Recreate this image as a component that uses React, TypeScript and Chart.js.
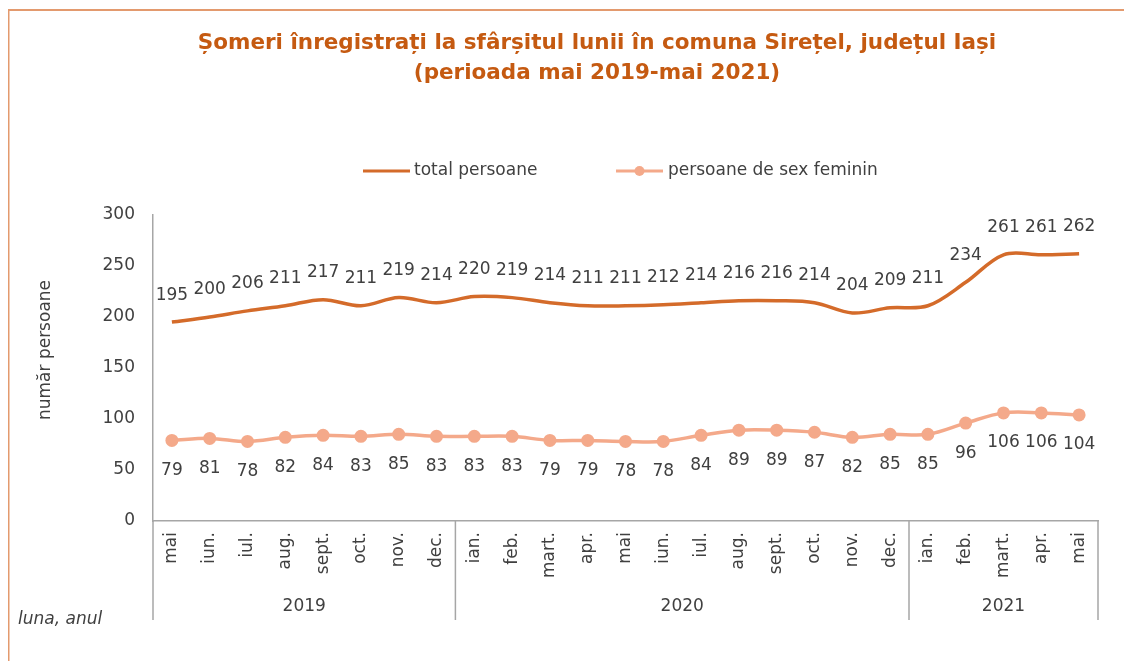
import React, { useEffect, useRef } from 'react';
import { Chart, registerables } from 'chart.js';

Chart.register(...registerables);

const months = ['mai', 'iun.', 'iul.', 'aug.', 'sept.', 'oct.', 'nov.', 'dec.', 'ian.', 'feb.', 'mart.', 'apr.', 'mai', 'iun.', 'iul.', 'aug.', 'sept.', 'oct.', 'nov.', 'dec.', 'ian.', 'feb.', 'mart.', 'apr.', 'mai'];
const years = ['2019', '2020', '2021'];
const yearMonthCounts = [8, 12, 5];
const totalPersons = [195, 200, 206, 211, 217, 211, 219, 214, 220, 219, 214, 211, 211, 212, 214, 216, 216, 214, 204, 209, 211, 234, 261, 261, 262];
const femalePersons = [79, 81, 78, 82, 84, 83, 85, 83, 83, 83, 79, 79, 78, 78, 84, 89, 89, 87, 82, 85, 85, 96, 106, 106, 104];
const seriesNames = ['total persoane', 'persoane de sex feminin'];
const titleLines = ['Șomeri înregistrați la sfârșitul lunii în comuna Sirețel, județul Iași', '(perioada mai 2019-mai 2021)'];
const yAxisTitle = 'număr persoane';
const xAxisTitle = 'luna, anul';
const yMin = 0;
const yMax = 300;
const yStep = 50;

const FONT = '"DejaVu Sans", Verdana, sans-serif';
const TEXT = '#404040';
const AXIS = '#A6A6A6';
const TOTAL_COLOR = '#D46B2A';
const FEMALE_COLOR = '#F4A98A';
const TITLE_COLOR = '#C55A11';
const FRAME_COLOR = '#E39A6E';
const FS = 17;

const W = 1124;
const H = 653;

const decorPlugin = {
  id: 'decor',
  beforeDraw(chart: any) {
    const ctx = chart.ctx;
    ctx.save();
    ctx.fillStyle = '#FFFFFF';
    ctx.fillRect(0, 0, W, H);
    // frame
    ctx.strokeStyle = FRAME_COLOR;
    ctx.lineWidth = 2;
    ctx.beginPath();
    ctx.moveTo(0.5, H);
    ctx.lineTo(0.5, 2);
    ctx.lineTo(W, 2);
    ctx.stroke();
    // title
    ctx.fillStyle = TITLE_COLOR;
    ctx.font = `bold 21.5px ${FONT}`;
    ctx.textAlign = 'center';
    ctx.textBaseline = 'middle';
    ctx.fillText(titleLines[0], 589, 35);
    ctx.fillText(titleLines[1], 589, 65);
    // legend
    const ly = 163;
    ctx.lineWidth = 3;
    ctx.strokeStyle = TOTAL_COLOR;
    ctx.beginPath();
    ctx.moveTo(355, ly);
    ctx.lineTo(402, ly);
    ctx.stroke();
    ctx.strokeStyle = FEMALE_COLOR;
    ctx.beginPath();
    ctx.moveTo(608, ly);
    ctx.lineTo(655, ly);
    ctx.stroke();
    ctx.fillStyle = FEMALE_COLOR;
    ctx.beginPath();
    ctx.arc(631.5, ly, 5, 0, Math.PI * 2);
    ctx.fill();
    ctx.fillStyle = TEXT;
    ctx.font = `${FS}px ${FONT}`;
    ctx.textAlign = 'left';
    ctx.fillText(seriesNames[0], 406, ly);
    ctx.fillText(seriesNames[1], 660, ly);
    // y title
    ctx.save();
    ctx.translate(38, 342);
    ctx.rotate(-Math.PI / 2);
    ctx.textAlign = 'center';
    ctx.fillText(yAxisTitle, 0, 0);
    ctx.restore();
    // x title
    ctx.font = `italic ${FS}px ${FONT}`;
    ctx.textAlign = 'left';
    ctx.fillText(xAxisTitle, 10, 612);
    ctx.restore();
  },
  afterDraw(chart: any) {
    const ctx = chart.ctx;
    const xs = chart.scales.x;
    const area = chart.chartArea;
    ctx.save();
    const bounds: number[] = [area.left];
    let idx = 0;
    yearMonthCounts.forEach((c, i) => {
      idx += c;
      if (i < yearMonthCounts.length - 1) {
        bounds.push((xs.getPixelForValue(idx - 1) + xs.getPixelForValue(idx)) / 2);
      }
    });
    bounds.push(area.right);
    ctx.strokeStyle = AXIS;
    ctx.lineWidth = 1.5;
    bounds.forEach((b) => {
      ctx.beginPath();
      ctx.moveTo(b, area.bottom);
      ctx.lineTo(b, 612);
      ctx.stroke();
    });
    ctx.fillStyle = TEXT;
    ctx.font = `${FS}px ${FONT}`;
    ctx.textAlign = 'center';
    ctx.textBaseline = 'middle';
    years.forEach((y, i) => {
      ctx.fillText(y, (bounds[i] + bounds[i + 1]) / 2, 599);
    });
    // data labels
    const offsets = [-27, 30];
    chart.data.datasets.forEach((ds: any, di: number) => {
      const meta = chart.getDatasetMeta(di);
      meta.data.forEach((pt: any, i: number) => {
        ctx.fillText(String(ds.data[i]), pt.x, pt.y + offsets[di]);
      });
    });
    ctx.restore();
  },
};

export default function App() {
  const ref = useRef<HTMLCanvasElement | null>(null);
  useEffect(() => {
    if (!ref.current) return;
    const chart = new Chart(ref.current, {
      type: 'line',
      data: {
        labels: months,
        datasets: [
          {
            label: seriesNames[0],
            data: totalPersons,
            borderColor: TOTAL_COLOR,
            backgroundColor: TOTAL_COLOR,
            borderWidth: 3.5,
            pointRadius: 0,
            tension: 0.35,
          },
          {
            label: seriesNames[1],
            data: femalePersons,
            borderColor: FEMALE_COLOR,
            backgroundColor: FEMALE_COLOR,
            borderWidth: 3.5,
            pointRadius: 6.5,
            pointBorderWidth: 0,
            tension: 0.35,
          },
        ],
      },
      options: {
        responsive: false,
        animation: false,
        devicePixelRatio: 1,
        layout: { padding: { top: 207, right: 34, left: 0, bottom: 0 } },
        plugins: { legend: { display: false }, title: { display: false }, tooltip: { enabled: false } },
        scales: {
          x: {
            type: 'category',
            offset: true,
            grid: { display: false, drawTicks: false },
            border: { display: true, color: AXIS, width: 1.5 },
            ticks: {
              autoSkip: false,
              minRotation: 90,
              maxRotation: 90,
              padding: 11,
              color: TEXT,
              font: { family: FONT, size: FS },
            },
            afterFit(scale: any) {
              scale.height = 140;
            },
          },
          y: {
            min: yMin,
            max: yMax,
            grid: { display: false, drawTicks: false },
            border: { display: true, color: AXIS, width: 1.5 },
            ticks: {
              stepSize: yStep,
              padding: 18,
              color: TEXT,
              font: { family: FONT, size: FS },
            },
            afterFit(scale: any) {
              scale.width = 145;
            },
          },
        },
      },
      plugins: [decorPlugin],
    } as any);
    return () => chart.destroy();
  }, []);
  return <canvas ref={ref} width={W} height={H} style={{ display: 'block', width: W, height: H }} />;
}
